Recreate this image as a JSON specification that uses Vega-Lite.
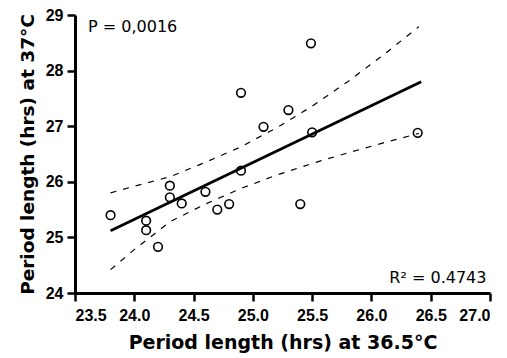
{
  "$schema": "https://vega.github.io/schema/vega-lite/v6.json",
  "autosize": "none",
  "width": 415,
  "height": 278,
  "padding": {"left": 75, "top": 15, "right": 17, "bottom": 65},
  "background": "white",
  "config": {
    "view": {"stroke": null},
    "font": "Liberation Sans",
    "axis": {
      "grid": false,
      "domainColor": "black",
      "domainWidth": 3,
      "tickColor": "black",
      "tickWidth": 2.5,
      "tickSize": 8,
      "labelColor": "black",
      "labelFont": "Liberation Sans",
      "labelFontWeight": "bold",
      "labelFontSize": 16,
      "titleColor": "black",
      "titleFont": "DejaVu Sans",
      "titleFontWeight": "bold",
      "titleFontSize": 19
    }
  },
  "datasets": {
    "pts": [
      {"x": 23.8, "y": 25.4},
      {"x": 24.1, "y": 25.3},
      {"x": 24.1, "y": 25.13},
      {"x": 24.2, "y": 24.83},
      {"x": 24.3, "y": 25.93},
      {"x": 24.3, "y": 25.72},
      {"x": 24.4, "y": 25.61},
      {"x": 24.6, "y": 25.82},
      {"x": 24.7, "y": 25.5},
      {"x": 24.8, "y": 25.6},
      {"x": 24.9, "y": 27.6},
      {"x": 24.9, "y": 26.2},
      {"x": 25.09, "y": 26.99},
      {"x": 25.3, "y": 27.29},
      {"x": 25.4, "y": 25.6},
      {"x": 25.49, "y": 28.49},
      {"x": 25.5, "y": 26.89},
      {"x": 26.39, "y": 26.88}
    ],
    "fit": [
      {"x": 23.8, "y": 25.12},
      {"x": 26.42, "y": 27.8}
    ],
    "band": [
      {"x": 23.8, "y": 25.8, "side": "upper"},
      {"x": 24.0, "y": 25.92, "side": "upper"},
      {"x": 24.3, "y": 26.09, "side": "upper"},
      {"x": 24.6, "y": 26.35, "side": "upper"},
      {"x": 24.9, "y": 26.63, "side": "upper"},
      {"x": 25.2, "y": 26.97, "side": "upper"},
      {"x": 25.5, "y": 27.36, "side": "upper"},
      {"x": 25.8, "y": 27.8, "side": "upper"},
      {"x": 26.1, "y": 28.28, "side": "upper"},
      {"x": 26.4, "y": 28.79, "side": "upper"},
      {"x": 23.8, "y": 24.42, "side": "lower"},
      {"x": 24.0, "y": 24.78, "side": "lower"},
      {"x": 24.3, "y": 25.28, "side": "lower"},
      {"x": 24.6, "y": 25.6, "side": "lower"},
      {"x": 24.9, "y": 25.88, "side": "lower"},
      {"x": 25.2, "y": 26.12, "side": "lower"},
      {"x": 25.5, "y": 26.33, "side": "lower"},
      {"x": 25.8, "y": 26.52, "side": "lower"},
      {"x": 26.1, "y": 26.7, "side": "lower"},
      {"x": 26.4, "y": 26.87, "side": "lower"}
    ],
    "notes": [
      {"x": 23.61, "y": 28.78, "label": "P = 0,0016", "pos": "left"},
      {"x": 26.97, "y": 24.27, "label": "R² = 0.4743", "pos": "right"}
    ]
  },
  "encoding": {
    "x": {
      "field": "x", "type": "quantitative",
      "scale": {"domain": [23.5, 27.0], "nice": false, "zero": false},
      "axis": {"values": [23.5, 24.0, 24.5, 25.0, 25.5, 26.0, 26.5, 27.0], "format": ".1f", "labelPadding": 6, "title": "Period length (hrs) at 36.5°C", "titlePadding": 10}
    },
    "y": {
      "field": "y", "type": "quantitative",
      "scale": {"domain": [24, 29], "nice": false, "zero": false},
      "axis": {"values": [24, 25, 26, 27, 28, 29], "labelPadding": 4, "title": "Period length (hrs) at 37°C", "titlePadding": 8, "titleFontSize": 18.5}
    }
  },
  "layer": [
    {
      "data": {"name": "band"},
      "mark": {"type": "line", "color": "black", "strokeWidth": 1.2, "strokeDash": [6, 7]},
      "encoding": {"detail": {"field": "side"}}
    },
    {
      "data": {"name": "fit"},
      "mark": {"type": "line", "color": "black", "strokeWidth": 2.8}
    },
    {
      "data": {"name": "pts"},
      "mark": {"type": "point", "shape": "circle", "filled": false, "stroke": "black", "strokeWidth": 1.6, "size": 75, "opacity": 1}
    },
    {
      "data": {"name": "notes"},
      "transform": [{"filter": "datum.pos == 'left'"}],
      "mark": {"type": "text", "align": "left", "baseline": "middle", "font": "DejaVu Sans", "fontSize": 16, "color": "black"},
      "encoding": {"text": {"field": "label"}}
    },
    {
      "data": {"name": "notes"},
      "transform": [{"filter": "datum.pos == 'right'"}],
      "mark": {"type": "text", "align": "right", "baseline": "middle", "font": "DejaVu Sans", "fontSize": 16, "color": "black"},
      "encoding": {"text": {"field": "label"}}
    }
  ]
}
